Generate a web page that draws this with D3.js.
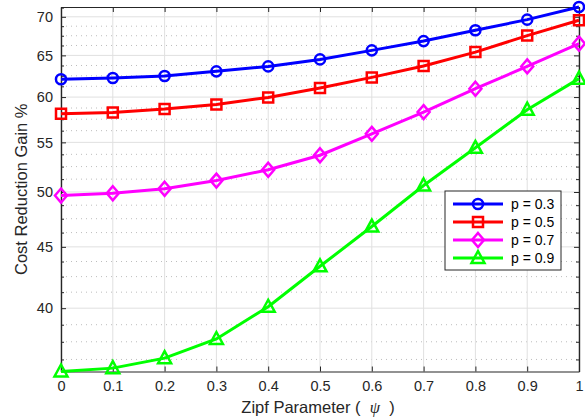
<!DOCTYPE html>
<html>
<head>
<meta charset="utf-8">
<script src="https://cdn.jsdelivr.net/npm/d3@7"></script>
<style>
  body { margin: 0; background: #fff; }
  svg { font-family: "Liberation Sans", Arial, sans-serif; }
</style>
</head>
<body>
<svg id="chart" width="585" height="418"></svg>
<script>
var psi = [0, 0.1, 0.2, 0.3, 0.4, 0.5, 0.6, 0.7, 0.8, 0.9, 1];
var gainP03 = [62.08, 62.23, 62.47, 63.04, 63.64, 64.50, 65.63, 66.81, 68.21, 69.62, 71.33];
var gainP05 = [58.12, 58.26, 58.63, 59.16, 59.96, 61.06, 62.31, 63.68, 65.41, 67.52, 69.53];
var gainP07 = [49.66, 49.88, 50.31, 51.11, 52.18, 53.66, 55.91, 58.29, 60.97, 63.64, 66.48];
var gainP09 = [35.42, 35.65, 36.34, 37.70, 40.11, 43.35, 46.79, 50.63, 54.43, 58.56, 62.16];
var seriesNames = ["p = 0.3", "p = 0.5", "p = 0.7", "p = 0.9"];
var yTicks = [40, 45, 50, 55, 60, 65, 70];
var xTicks = [0, 0.1, 0.2, 0.3, 0.4, 0.5, 0.6, 0.7, 0.8, 0.9, 1];

var series = [
  { name: seriesNames[0], values: gainP03, color: "#0000ff", marker: "circle" },
  { name: seriesNames[1], values: gainP05, color: "#ff0000", marker: "square" },
  { name: seriesNames[2], values: gainP07, color: "#ff00ff", marker: "diamond" },
  { name: seriesNames[3], values: gainP09, color: "#00ff00", marker: "triangle" }
];

// plot box (window.top is reserved, so no "top" here)
var pLeft = 61, pRight = 579, pTop = 7, pBottom = 371.5;
var allVals = gainP03.concat(gainP05, gainP07, gainP09);
var x = d3.scaleLinear().domain([0, 1]).range([pLeft, pRight]);
var y = d3.scaleLog().domain([d3.min(allVals), d3.max(allVals)]).range([pBottom, pTop]);

// minor ticks every 1.25 between the labelled ones
var minorTicks = [];
for (var v = 35; v <= 72; v += 1.25) {
  if (v % 5 !== 0 && v >= y.domain()[0] && v <= y.domain()[1]) minorTicks.push(v);
}

var svg = d3.select("#chart");
var axisColor = "#262626";

// grid
var grid = svg.append("g");
grid.selectAll(".minor").data(minorTicks).enter().append("line")
  .attr("x1", pLeft).attr("x2", pRight)
  .attr("y1", function(d) { return y(d); }).attr("y2", function(d) { return y(d); })
  .attr("stroke", "#bdbdbd").attr("stroke-width", 1).attr("stroke-dasharray", "1,4");
grid.selectAll(".gx").data(xTicks).enter().append("line")
  .attr("x1", function(d) { return x(d); }).attr("x2", function(d) { return x(d); })
  .attr("y1", pTop).attr("y2", pBottom)
  .attr("stroke", "#e0e0e0").attr("stroke-width", 1);
grid.selectAll(".gy").data(yTicks).enter().append("line")
  .attr("x1", pLeft).attr("x2", pRight)
  .attr("y1", function(d) { return y(d); }).attr("y2", function(d) { return y(d); })
  .attr("stroke", "#e0e0e0").attr("stroke-width", 1);

// axes (ticks inward, box on)
function styleAxis(g) {
  g.selectAll("path").attr("stroke", axisColor).attr("stroke-width", 1.2);
  g.selectAll("line").attr("stroke", axisColor);
  g.selectAll("text").attr("fill", axisColor).attr("font-size", "14.5px")
    .attr("font-family", "Liberation Sans, Arial, sans-serif");
}
svg.append("g").attr("transform", "translate(0," + pBottom + ")")
  .call(d3.axisBottom(x).tickValues(xTicks).tickFormat(d3.format("")).tickSizeInner(-5).tickSizeOuter(0).tickPadding(9))
  .call(styleAxis);
svg.append("g").attr("transform", "translate(0," + pTop + ")")
  .call(d3.axisTop(x).tickValues(xTicks).tickFormat("").tickSizeInner(-5).tickSizeOuter(0))
  .call(styleAxis);
svg.append("g").attr("transform", "translate(" + pLeft + ",0)")
  .call(d3.axisLeft(y).tickValues(yTicks).tickFormat(d3.format("d")).tickSizeInner(-5).tickSizeOuter(0).tickPadding(8))
  .call(styleAxis);
svg.append("g").attr("transform", "translate(" + pLeft + ",0)")
  .call(d3.axisLeft(y).tickValues(minorTicks).tickFormat("").tickSizeInner(-3).tickSizeOuter(0))
  .call(styleAxis);
svg.append("g").attr("transform", "translate(" + pRight + ",0)")
  .call(d3.axisRight(y).tickValues(yTicks).tickFormat("").tickSizeInner(-5).tickSizeOuter(0))
  .call(styleAxis);
svg.append("g").attr("transform", "translate(" + pRight + ",0)")
  .call(d3.axisRight(y).tickValues(minorTicks).tickFormat("").tickSizeInner(-3).tickSizeOuter(0))
  .call(styleAxis);

// markers
function markerPath(type) {
  if (type === "circle") return d3.symbol().type(d3.symbolCircle).size(80)();
  if (type === "square") return "M-5,-5H5V5H-5Z";
  if (type === "diamond") return "M0,-7L6,0L0,7L-6,0Z";
  return "M0,-7L6.5,5L-6.5,5Z";
}

var line = d3.line()
  .x(function(d, i) { return x(psi[i]); })
  .y(function(d) { return y(d); });

series.forEach(function(s) {
  var g = svg.append("g");
  g.append("path").datum(s.values)
    .attr("d", line).attr("fill", "none")
    .attr("stroke", s.color).attr("stroke-width", 3);
  g.selectAll("path.m").data(s.values).enter().append("path")
    .attr("class", "m")
    .attr("d", markerPath(s.marker))
    .attr("transform", function(d, i) { return "translate(" + x(psi[i]) + "," + y(d) + ")"; })
    .attr("fill", "none").attr("stroke", s.color).attr("stroke-width", 2.5);
});

// legend
var lg = svg.append("g").attr("transform", "translate(445,191)");
lg.append("rect").attr("width", 116).attr("height", 79)
  .attr("fill", "#fff").attr("stroke", axisColor).attr("stroke-width", 1);
series.forEach(function(s, i) {
  var cy = 13 + i * 18;
  lg.append("line").attr("x1", 8).attr("x2", 58).attr("y1", cy).attr("y2", cy)
    .attr("stroke", s.color).attr("stroke-width", 3);
  lg.append("path").attr("d", markerPath(s.marker))
    .attr("transform", "translate(33," + cy + ")")
    .attr("fill", "none").attr("stroke", s.color).attr("stroke-width", 2.5);
  lg.append("text").attr("x", 66).attr("y", cy + 5)
    .attr("font-size", "14px").attr("fill", "#000").text(s.name);
});

// axis labels
svg.append("text")
  .attr("transform", "translate(27," + ((pTop + pBottom) / 2) + ") rotate(-90)")
  .attr("text-anchor", "middle").attr("font-size", "16.5px").attr("fill", axisColor)
  .text("Cost Reduction Gain %");
var xl = svg.append("text").attr("x", (pLeft + pRight) / 2 - 2).attr("y", 413)
  .attr("text-anchor", "middle").attr("font-size", "16.5px").attr("fill", axisColor)
  .attr("xml:space", "preserve");
xl.append("tspan").text("Zipf Parameter (  ");
xl.append("tspan").attr("font-family", "Liberation Serif, serif").attr("font-style", "italic").text("ψ");
xl.append("tspan").text("  )");
</script>
</body>
</html>
